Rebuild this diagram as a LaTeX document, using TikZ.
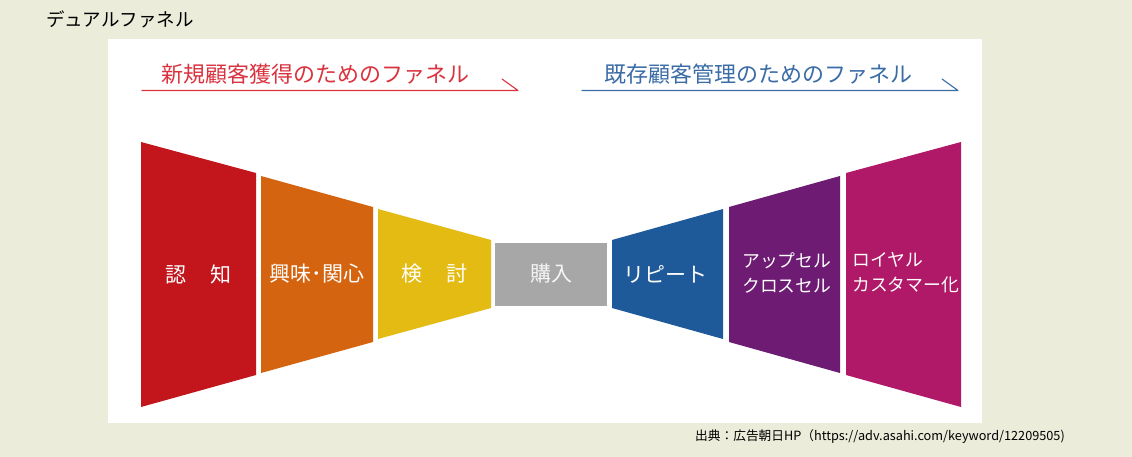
\documentclass[tikz,border=0pt]{standalone}
\usepackage{fontspec}
\setmainfont{Noto Sans CJK JP}
\newfontfamily\jpfont{Noto Sans CJK JP}
\definecolor{bgbeige}{HTML}{ECECDB}
\definecolor{cred}{HTML}{C2151C}
\definecolor{corange}{HTML}{D4640F}
\definecolor{cyellow}{HTML}{E4BB12}
\definecolor{cgray}{HTML}{A7A7A7}
\definecolor{cblue}{HTML}{1E5A99}
\definecolor{cpurple}{HTML}{6D1B73}
\definecolor{cmagenta}{HTML}{B01868}
\definecolor{headred}{HTML}{DA3340}
\definecolor{headblue}{HTML}{3A6CA6}
\tikzset{
  lbl/.style={text=white, font=\jpfont\fontsize{21}{25}\selectfont, inner sep=0pt, align=left},
  kanalbl/.style={lbl, font=\jpfont\fontsize{17.8}{25}\selectfont, anchor=west},
  head/.style={font=\jpfont\fontsize{22}{26}\selectfont, inner sep=0pt, anchor=west},
  harp/.style={line width=1.1pt, line cap=round, line join=round},
}
\begin{document}
\begin{tikzpicture}[x=1pt,y=-1pt]
\useasboundingbox (0,0) rectangle (1132,457);
\fill[bgbeige] (0,0) rectangle (1132,457);
\fill[white] (108,39) rectangle (982,423);

% title
\node[font=\jpfont\fontsize{18.5}{22}\selectfont, anchor=west, inner sep=0pt] (title) at (46,19) {デュアルファネル};

% headings
\node[head, text=headred] (hred) at (161,74) {新規顧客獲得のためのファネル};
\coordinate (rs) at (142,90.5);
\coordinate (re) at (518,90.5);
\coordinate (rt) at (502,79);
\draw[harp, headred] (rs) -- (re) -- (rt);

\node[head, text=headblue] (hblue) at (604,74) {既存顧客管理のためのファネル};
\coordinate (bs) at (582,90.5);
\coordinate (be) at (958,90.5);
\coordinate (bt) at (942,79);
\draw[harp, headblue] (bs) -- (be) -- (bt);

% funnel shapes
\fill[cred]     (141,142) -- (256,173) -- (256,375) -- (141,407) -- cycle;
\fill[corange]  (261,176) -- (373,207) -- (373,342) -- (261,373) -- cycle;
\fill[cyellow]  (378,209) -- (491,240) -- (491,308) -- (378,339) -- cycle;
\fill[cgray]    (495,243) rectangle (607,306);
\fill[cblue]    (612,240) -- (723,209) -- (723,339) -- (612,308) -- cycle;
\fill[cpurple]  (729,207) -- (840,176) -- (840,373) -- (729,342) -- cycle;
\fill[cmagenta] (846,173) -- (961,142) -- (961,407) -- (846,375) -- cycle;

% labels
\node[lbl] (l1) at (198.5,274) {認\hspace{1.1em}知};
\node[lbl] (l2) at (317,274) {興味･関心};
\node[lbl] (l3) at (434.5,274) {検\hspace{1.1em}討};
\node[lbl, text=white!92!gray] (l4) at (551,274) {購入};
\node[lbl] (l5) at (665,274) {リピート};
\node[kanalbl] (l6) at (742,273) {アップセル\\クロスセル};
\node[kanalbl] (l7) at (852,273) {ロイヤル\\カスタマー化};

% source
\node[font=\jpfont\fontsize{12.7}{14}\selectfont, anchor=west, inner sep=0pt] (src) at (695,437) {出典：広告朝日HP（https://adv.asahi.com/keyword/12209505)};
\end{tikzpicture}
\end{document}
